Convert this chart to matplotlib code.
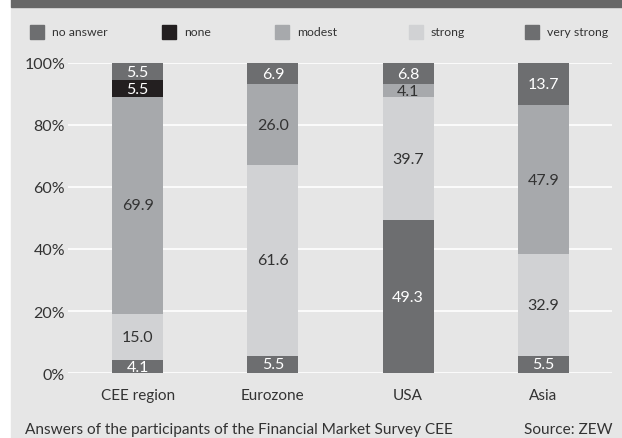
"""
Stacked bars: expectations of Financial Market Survey CEE participants
"""
import numpy as np
import matplotlib.pyplot as plt
from matplotlib.patches import Rectangle

plt.rcParams["font.family"] = ["Lato", "DejaVu Sans"]

BG = "#e6e6e6"      # panel background
TOPBAR = "#676767"  # strip across the top
TXT = "#333333"

regions = ["CEE region", "Eurozone", "USA", "Asia"]
# stacked bottom -> top
very_strong = [4.1, 5.5, 49.3, 5.5]
strong = [15.0, 61.6, 39.7, 32.9]
modest = [69.9, 26.0, 4.1, 47.9]
none = [5.5, 0.0, 0.0, 0.0]
no_answer = [5.5, 6.9, 6.8, 13.7]

series = [
    ("very strong", very_strong, "#6d6e70", "white"),
    ("strong", strong, "#d1d2d4", TXT),
    ("modest", modest, "#a7a9ac", TXT),
    ("none", none, "#231f20", "white"),
    ("no answer", no_answer, "#6d6e70", "white"),
]
legend_order = ["no answer", "none", "modest", "strong", "very strong"]
legend_x = [30, 162, 275, 409, 525]  # pixel positions of legend boxes

W, H = 622, 439
fig = plt.figure(figsize=(W / 100, H / 100), dpi=100)
fig.patch.set_facecolor("white")

# panel background and top strip
fig.patches.append(Rectangle((11 / W, 0), 1 - 11 / W, 1 - 8 / H,
                             transform=fig.transFigure, color=BG, zorder=-10))
fig.patches.append(Rectangle((11 / W, 1 - 8 / H), 1 - 11 / W, 8 / H,
                             transform=fig.transFigure, color=TOPBAR, zorder=-10))

ax = fig.add_axes([68 / W, 1 - 374 / H, (612 - 68) / W, 310 / H])
ax.set_facecolor(BG)
for s in ax.spines.values():
    s.set_visible(False)

x = np.arange(len(regions))
bottom = np.zeros(len(regions))
for name, vals, col, tcol in series:
    vals = np.array(vals)
    ax.bar(x, vals, 0.378, bottom=bottom, color=col, zorder=3)
    for xi, v, b in zip(x, vals, bottom):
        if v > 0:
            ax.text(xi, b + v / 2, "{:.1f}".format(v), ha="center",
                    va="center", color=tcol, fontsize=11.5, zorder=4)
    bottom += vals

ax.set_xlim(-0.515, 3.507)
ax.set_ylim(0, 100)
ax.set_yticks(np.arange(0, 101, 20))
ax.set_yticklabels(["{}%".format(t) for t in range(0, 101, 20)],
                   color=TXT, fontsize=11.5)
ax.yaxis.grid(True, color="white", linewidth=1.2, zorder=0)
ax.set_xticks(x)
ax.set_xticklabels(regions, color=TXT, fontsize=11)
ax.tick_params(axis="both", length=0)
ax.tick_params(axis="x", pad=11)
ax.tick_params(axis="y", pad=2)

# legend drawn by hand along the top
colors = {n: c for n, _, c, _ in series}
for name, px in zip(legend_order, legend_x):
    fig.patches.append(Rectangle((px / W, 1 - 40 / H), 14 / W, 14 / H,
                                 transform=fig.transFigure,
                                 color=colors[name], zorder=1))
    fig.text((px + 22) / W, 1 - 33 / H, name, ha="left", va="center",
             fontsize=8.8, color=TXT)

fig.text(25 / W, 1 - 430 / H,
         "Answers of the participants of the Financial Market Survey CEE",
         ha="left", va="center", fontsize=11.1, color=TXT)
fig.text(613 / W, 1 - 430 / H, "Source: ZEW", ha="right", va="center",
         fontsize=11.1, color=TXT)

fig.savefig("out.png", dpi=100, facecolor=fig.get_facecolor())
